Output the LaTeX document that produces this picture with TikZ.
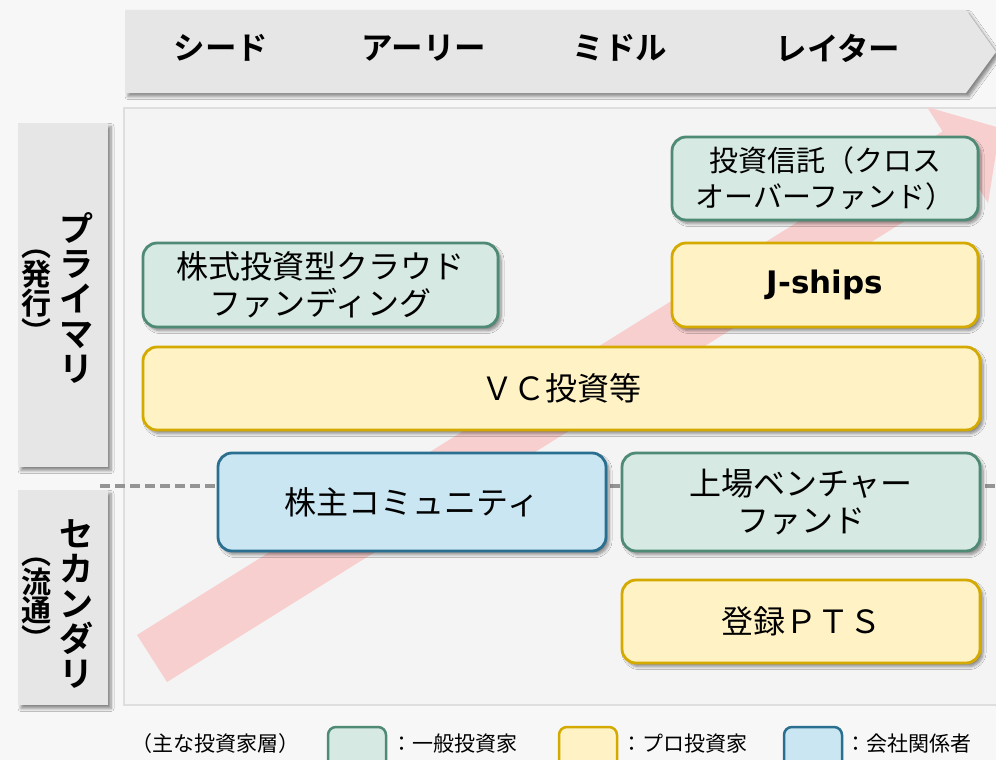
\documentclass[tikz,border=0pt]{standalone}
\usepackage{fontspec}
\setmainfont{Noto Sans CJK JP}[BoldFont={Noto Sans CJK JP Bold}]
\newfontfamily\latinbold{DejaVu Sans}
\usetikzlibrary{shadows.blur}
\definecolor{pagebg}{HTML}{F7F7F7}
\definecolor{panelbg}{HTML}{F4F4F4}
\definecolor{panelline}{HTML}{DEDEDE}
\definecolor{hdrgray}{HTML}{E6E6E6}
\definecolor{gfill}{HTML}{D6E9E3}
\definecolor{gline}{HTML}{4F8A74}
\definecolor{yfill}{HTML}{FFF3C6}
\definecolor{yline}{HTML}{D4AA00}
\definecolor{bfill}{HTML}{C9E6F2}
\definecolor{bline}{HTML}{2B6F90}
\definecolor{pinkarrow}{HTML}{F8CFCF}
\definecolor{dashgray}{HTML}{949494}
\tikzset{
  softshadow/.style={blur shadow={shadow xshift=3pt, shadow yshift=-3.5pt, shadow blur radius=3pt, shadow blur steps=6, shadow opacity=45}},
  roundbox/.style={rectangle, rounded corners=14pt, line width=2.8pt, softshadow, inner sep=0pt, align=center, font=\fontsize{32}{37}\selectfont},
  greenbox/.style={roundbox, draw=gline, fill=gfill},
  yellowbox/.style={roundbox, draw=yline, fill=yfill},
  bluebox/.style={roundbox, draw=bline, fill=bfill},
  sidebox/.style={rectangle, fill=hdrgray, softshadow, inner sep=0pt},
  hdrtext/.style={font=\fontsize{31.5}{34}\selectfont\bfseries, inner sep=0pt},
  vbig/.style={font=\fontsize{34}{35}\selectfont\bfseries, align=center, inner sep=0pt},
  vsmall/.style={font=\fontsize{30}{27}\selectfont\bfseries, align=center, inner sep=0pt},
  legendsq/.style={rectangle, rounded corners=8pt, line width=2.5pt, minimum width=58, minimum height=46, inner sep=0pt},
  legendtext/.style={font=\fontsize{21}{24}\selectfont, inner sep=0pt}
}
\begin{document}
\begin{tikzpicture}[x=1pt,y=-1pt]
\useasboundingbox (0,0) rectangle (996,760);
\begin{scope}
\clip (0,0) rectangle (996,760);
\fill[pagebg] (0,0) rectangle (996,760);
% main panel
\draw[panelline, line width=2pt, fill=panelbg] (124,108) rectangle (1005,705);
% header chevron
\path[fill=hdrgray, softshadow] (125,10) -- (966,10) -- (996,52) -- (966,93) -- (125,93) -- cycle;
\node[hdrtext] (seed) at (221,48) {シード};
\node[hdrtext] (early) at (424,48) {アーリー};
\node[hdrtext] (middle) at (620,48) {ミドル};
\node[hdrtext] (later) at (838,48) {レイター};
% side labels
\node[sidebox, minimum width=90, minimum height=344] (primbox) at (63,295) {};
\node[vbig] (prim) at (76,298) {プ\\ラ\\イ\\マ\\リ};
\node[vsmall] (hakko) at (36,297) {︵\\発\\行\\︶};
\node[sidebox, minimum width=90, minimum height=215] (secbox) at (63,597.5) {};
\node[vbig] (sec) at (76,604) {セ\\カ\\ン\\ダ\\リ};
\node[vsmall] (ryutsu) at (36,604) {︵\\流\\通\\︶};
% growth arrow
\fill[pinkarrow] (137,635) -- (942.6,131.4) -- (927,107) -- (1000,128) -- (988,203) -- (972.8,178.6) -- (167,682) -- cycle;
% dashed divider
\coordinate (dashL) at (100,486);
\coordinate (dashR) at (996,486);
\draw[dashgray, line width=3.5pt, dash pattern=on 10pt off 5pt] (dashL) -- (dashR);
% boxes
\node[greenbox, minimum width=306, minimum height=83, font=\fontsize{29}{36}\selectfont] (toushin) at (825,178.5) {投資信託（クロス\\オーバーファンド）};
\node[yellowbox, minimum width=306, minimum height=84, font=\fontsize{31}{37}\selectfont\latinbold\bfseries] (jships) at (825,285) {J-ships};
\node[greenbox, minimum width=355, minimum height=84] (crowd) at (320.5,285) {株式投資型クラウド\\ファンディング};
\node[yellowbox, minimum width=837, minimum height=83] (vc) at (561.5,388.5) {ＶＣ投資等};
\node[bluebox, minimum width=388, minimum height=98] (kabunushi) at (412,502) {株主コミュニティ};
\node[greenbox, minimum width=358, minimum height=98] (joujou) at (801,502) {上場ベンチャー\\ファンド};
\node[yellowbox, minimum width=358, minimum height=83] (pts) at (801,621.5) {登録ＰＴＳ};
% legend
\node[legendtext] (legtitle) at (215,744) {（主な投資家層）};
\node[legendsq, draw=gline, fill=gfill] (leggreen) at (357,750) {};
\node[legendtext, anchor=west] (legg) at (391,744) {：一般投資家};
\node[legendsq, draw=yline, fill=yfill] (legyellow) at (588,750) {};
\node[legendtext, anchor=west] (legy) at (621,744) {：プロ投資家};
\node[legendsq, draw=bline, fill=bfill] (legblue) at (813,750) {};
\node[legendtext, anchor=west] (legb) at (845,744) {：会社関係者};
\end{scope}
\end{tikzpicture}
\end{document}
